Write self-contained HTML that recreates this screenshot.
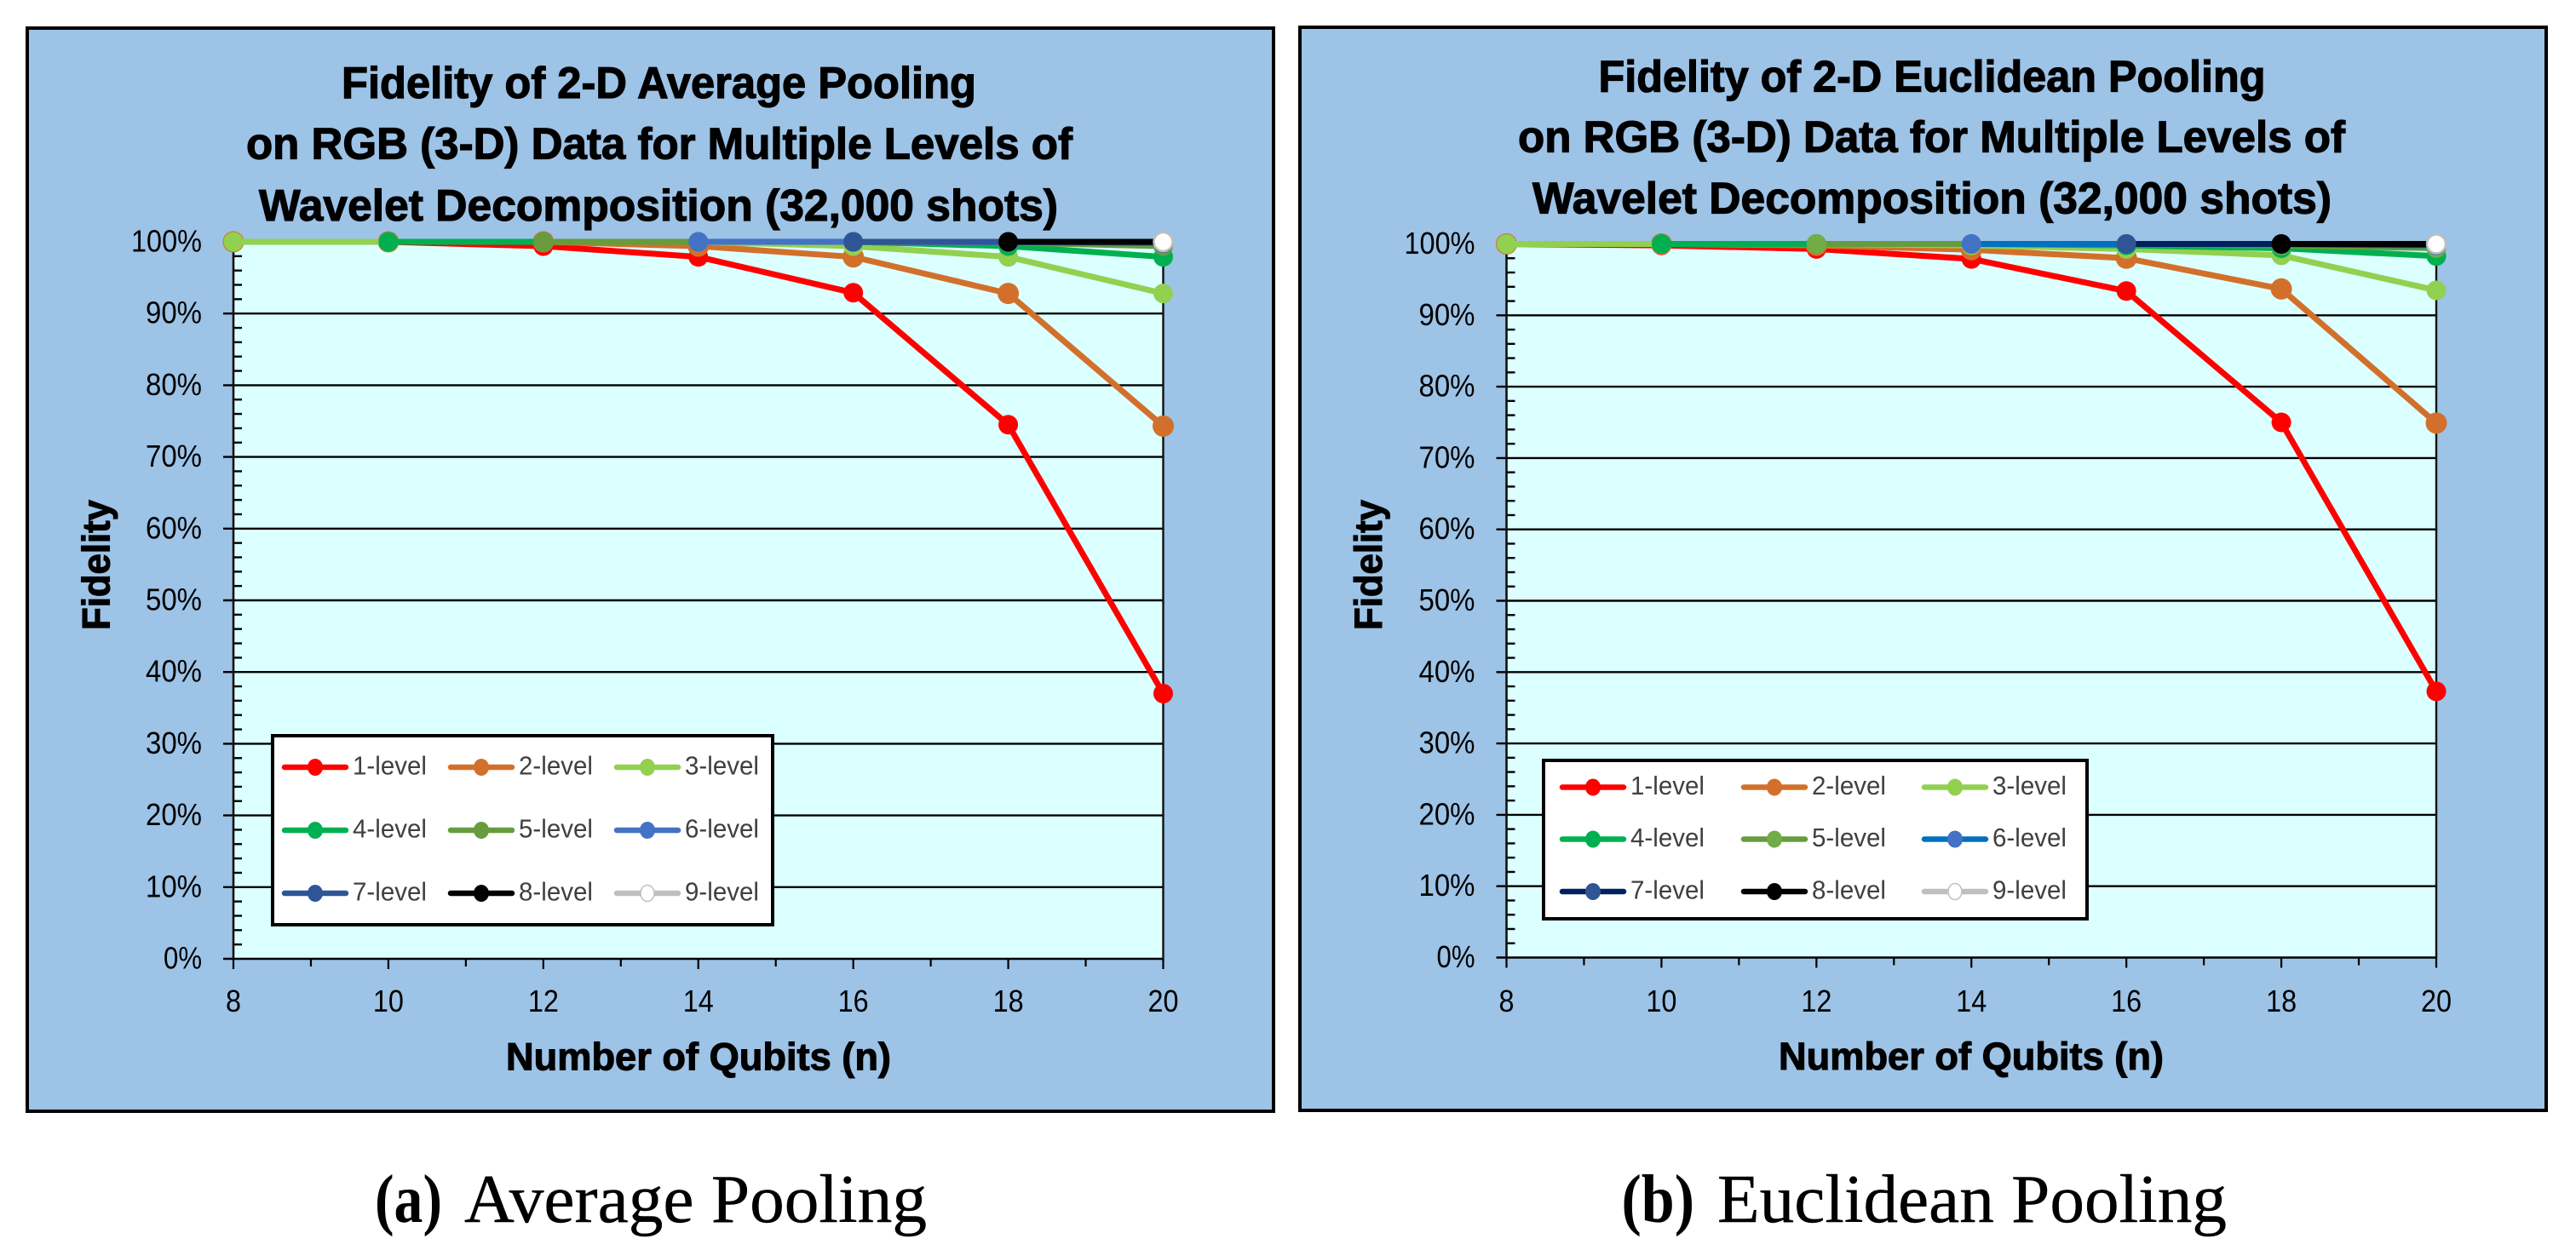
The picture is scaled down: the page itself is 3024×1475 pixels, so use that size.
<!DOCTYPE html>
<html lang="en">
<head>
<meta charset="utf-8">
<title>Fidelity of 2-D Pooling on RGB Data</title>
<style>
html,body{margin:0;padding:0;background:#fff;width:3024px;height:1475px;overflow:hidden}
svg{position:absolute;left:0;top:0;display:block}
.title{font:bold 52px "Liberation Sans",sans-serif;fill:#000;stroke:#000;stroke-width:1.2px}
.axis-title{font:bold 45px "Liberation Sans",sans-serif;fill:#000;stroke:#000;stroke-width:1.1px}
.caption{font:80px "Liberation Serif",serif;fill:#000;stroke:#000;stroke-width:.4px}
.caption-b{font:bold 80px "Liberation Serif",serif;fill:#000}
.tick{font:36px "Liberation Sans",sans-serif;fill:#000}
.legend-text{font:31px "Liberation Sans",sans-serif;fill:#404040}
</style>
</head>
<body>
<svg id="figure" xmlns="http://www.w3.org/2000/svg" width="3024" height="1475" viewBox="0 0 3024 1475">
  <g>
    <rect x="32" y="33" width="1463" height="1272" fill="#9DC3E6" stroke="#000" stroke-width="4"/>
    <rect x="274" y="284" width="1091.5" height="842" fill="#DCFFFF"/>
    <g id="avg-grid"></g>
    <g id="avg-series"></g>
    <g id="avg-legend"></g>
    <text class="title" x="401" y="115" textLength="745" lengthAdjust="spacingAndGlyphs">Fidelity of 2-D Average Pooling</text>
    <text class="title" x="289" y="186.5" textLength="970" lengthAdjust="spacingAndGlyphs">on RGB (3-D) Data for Multiple Levels of</text>
    <text class="title" x="304" y="259" textLength="938" lengthAdjust="spacingAndGlyphs">Wavelet Decomposition (32,000 shots)</text>
    <text class="axis-title" x="594" y="1256.5" textLength="452" lengthAdjust="spacingAndGlyphs">Number of Qubits (n)</text>
    <text class="axis-title" transform="translate(128.5 740) rotate(-90)" x="0" y="0" textLength="153" lengthAdjust="spacingAndGlyphs">Fidelity</text>
  </g>
  <g>
    <rect x="1526" y="32" width="1463" height="1272" fill="#9DC3E6" stroke="#000" stroke-width="4"/>
    <rect x="1768.5" y="286.5" width="1091.5" height="838" fill="#DCFFFF"/>
    <g id="euc-grid"></g>
    <g id="euc-series"></g>
    <g id="euc-legend"></g>
    <text class="title" x="1876.5" y="107.5" textLength="783" lengthAdjust="spacingAndGlyphs">Fidelity of 2-D Euclidean Pooling</text>
    <text class="title" x="1782" y="178.5" textLength="971" lengthAdjust="spacingAndGlyphs">on RGB (3-D) Data for Multiple Levels of</text>
    <text class="title" x="1799" y="250.5" textLength="938" lengthAdjust="spacingAndGlyphs">Wavelet Decomposition (32,000 shots)</text>
    <text class="axis-title" x="2088" y="1256" textLength="452" lengthAdjust="spacingAndGlyphs">Number of Qubits (n)</text>
    <text class="axis-title" transform="translate(1622 740) rotate(-90)" x="0" y="0" textLength="153" lengthAdjust="spacingAndGlyphs">Fidelity</text>
  </g>
  <g>
    <text class="caption-b" x="440" y="1435" textLength="79" lengthAdjust="spacingAndGlyphs">(a)</text>
    <text class="caption" x="545" y="1435" textLength="543" lengthAdjust="spacingAndGlyphs">Average Pooling</text>
  </g>
  <g>
    <text class="caption-b" x="1903.5" y="1435" textLength="85.5" lengthAdjust="spacingAndGlyphs">(b)</text>
    <text class="caption" x="2016" y="1435" textLength="598" lengthAdjust="spacingAndGlyphs">Euclidean Pooling</text>
  </g>
</svg>
<script>
const qubits = [8, 10, 12, 14, 16, 18, 20];
const xTickLabels = ['8', '10', '12', '14', '16', '18', '20'];
const yTickValues = [0, 10, 20, 30, 40, 50, 60, 70, 80, 90, 100];
const yTickLabels = ['0%', '10%', '20%', '30%', '40%', '50%', '60%', '70%', '80%', '90%', '100%'];
const seriesLabels = ['1-level', '2-level', '3-level', '4-level', '5-level', '6-level', '7-level', '8-level', '9-level'];

const avgLevel1 = [100, 100, 99.4, 97.9, 92.9, 74.5, 37];
const avgLevel2 = [100, 100, 100, 99.4, 97.9, 92.8, 74.3];
const avgLevel3 = [100, 100, 100, 100, 99.4, 97.9, 92.8];
const avgLevel4 = [null, 100, 100, 100, 100, 99.4, 97.9];
const avgLevel5 = [null, null, 100, 100, 100, 99.9, 99.4];
const avgLevel6 = [null, null, null, 100, 100, 99.95, 99.8];
const avgLevel7 = [null, null, null, null, 100, 100, 99.9];
const avgLevel8 = [null, null, null, null, null, 100, 100];
const avgLevel9 = [null, null, null, null, null, null, 100];

const eucLevel1 = [100, 99.8, 99.3, 97.9, 93.4, 75, 37.3];
const eucLevel2 = [100, 100, 99.8, 99.2, 98, 93.7, 74.9];
const eucLevel3 = [100, 100, 100, 99.8, 99.3, 98.4, 93.5];
const eucLevel4 = [null, 100, 100, 100, 99.8, 99.4, 98.3];
const eucLevel5 = [null, null, 100, 100, 100, 99.8, 99.4];
const eucLevel6 = [null, null, null, 100, 100, 99.95, 99.8];
const eucLevel7 = [null, null, null, null, 100, 100, 99.9];
const eucLevel8 = [null, null, null, null, null, 100, 100];
const eucLevel9 = [null, null, null, null, null, null, 100];

const avgSeries = [avgLevel1, avgLevel2, avgLevel3, avgLevel4, avgLevel5, avgLevel6, avgLevel7, avgLevel8, avgLevel9];
const eucSeries = [eucLevel1, eucLevel2, eucLevel3, eucLevel4, eucLevel5, eucLevel6, eucLevel7, eucLevel8, eucLevel9];

const avgLineColors = ['#FF0000', '#D2702B', '#92D050', '#00B050', '#669C3E', '#4472C4', '#2F5597', '#000000', '#BFBFBF'];
const avgMarkerColors = ['#FF0000', '#D2702B', '#92D050', '#00B050', '#669C3E', '#4472C4', '#2F5597', '#000000', '#FFFFFF'];
const eucLineColors = ['#FF0000', '#D2702B', '#92D050', '#00B050', '#669C3E', '#0070C0', '#002060', '#000000', '#BFBFBF'];
const eucMarkerColors = ['#FF0000', '#D2702B', '#92D050', '#00B050', '#70AD47', '#4472C4', '#2F5597', '#000000', '#FFFFFF'];

const NS = 'http://www.w3.org/2000/svg';

function make(tag, parent, attrs, text) {
  const node = document.createElementNS(NS, tag);
  for (const key in attrs) node.setAttribute(key, attrs[key]);
  if (text !== undefined) node.textContent = text;
  parent.appendChild(node);
  return node;
}

function textWidth(label) {
  if (label.length === 1) return 18;
  if (label.length === 2) return label.endsWith('%') ? 45 : 36;
  return label.length === 3 ? 66 : 83;
}

function drawChart(cfg) {
  const grid = document.getElementById(cfg.prefix + '-grid');
  const seriesLayer = document.getElementById(cfg.prefix + '-series');
  const legend = document.getElementById(cfg.prefix + '-legend');
  const xScale = v => cfg.x0 + (v - 8) / 12 * (cfg.x1 - cfg.x0);
  const yScale = v => cfg.y0 + v / 100 * (cfg.y100 - cfg.y0);

  yTickValues.forEach((v, i) => {
    const y = yScale(v);
    const line = make('line', grid, {x1: cfg.x0 - 12, x2: cfg.x1, y1: y, y2: y, stroke: '#000', 'stroke-width': 2.4});
    
    
    const width = textWidth(yTickLabels[i]);
    const label = make('text', grid, {class: 'tick', x: cfg.x0 - 37 - width, y: y + 11.5, textLength: width, lengthAdjust: 'spacingAndGlyphs'}, yTickLabels[i]);
    
    
  });

  for (let v = 2; v < 100; v += 2) {
    if (v % 10 === 0) continue;
    const y = yScale(v);
    const minor = make('line', grid, {x1: cfg.x0, x2: cfg.x0 + 10, y1: y, y2: y, stroke: '#000', 'stroke-width': 2.4});
    
    
  }

  for (let n = 8; n <= 20; n++) {
    const x = xScale(n);
    const tick = make('line', grid, {x1: x, x2: x, y1: cfg.y0, y2: cfg.y0 + (n % 2 === 0 ? 12 : 9), stroke: '#000', 'stroke-width': 2.2});
    
    
  }

  qubits.forEach((n, i) => {
    const label = make('text', grid, {class: 'tick', x: xScale(n) - textWidth(xTickLabels[i]) / 2, y: 1188, textLength: textWidth(xTickLabels[i]), lengthAdjust: 'spacingAndGlyphs'}, xTickLabels[i]);
    
    
  });

  const yAxis = make('line', grid, {x1: cfg.x0, x2: cfg.x0, y1: cfg.y100, y2: cfg.y0, stroke: '#111', 'stroke-width': 2.6});
  
  
  const rightEdge = make('line', grid, {x1: cfg.x1, x2: cfg.x1, y1: cfg.y100, y2: cfg.y0, stroke: '#111', 'stroke-width': 2.4});
  
  

  cfg.series.forEach((values, s) => {
    const group = make('g', seriesLayer, {});
    
    
    const pts = [];
    values.forEach((v, i) => {
      if (v !== null) pts.push([xScale(qubits[i]), yScale(v)]);
    });
    if (pts.length > 1) {
      const line = make('polyline', group, {points: pts.map(p => p.join(',')).join(' '), fill: 'none', stroke: cfg.lineColors[s], 'stroke-width': 7, 'stroke-linejoin': 'round'});
      
      
    }
    pts.forEach(p => {
      const dot = make('circle', group, {
        cx: p[0], cy: p[1], r: s === 1 ? 12.5 : (s === 8 ? 11 : 11.5),
        fill: cfg.markerColors[s],
        stroke: s === 8 ? '#BFBFBF' : 'none',
        'stroke-width': s === 8 ? 2.5 : 0
      });
      
      
    });
  });

  const box = make('rect', legend, {x: cfg.box[0], y: cfg.box[1], width: cfg.box[2], height: cfg.box[3], fill: '#fff', stroke: '#000', 'stroke-width': 4});
  
  

  seriesLabels.forEach((name, s) => {
    const col = s % 3;
    const row = Math.floor(s / 3);
    const x = cfg.legendCols[col];
    const y = cfg.legendRows[row];
    const entry = make('g', legend, {});
    
    
    make('line', entry, {x1: x + 2, x2: x + 74, y1: y, y2: y, stroke: cfg.lineColors[s], 'stroke-width': 6.5, 'stroke-linecap': 'round'});
    make('ellipse', entry, {cx: x + 38, cy: y, rx: s === 8 ? 8 : 9, ry: s === 8 ? 9.5 : 10, fill: cfg.markerColors[s], stroke: s === 8 ? '#BFBFBF' : 'none', 'stroke-width': s === 8 ? 1.5 : 0});
    make('text', entry, {class: 'legend-text', x: x + 82, y: y + 8.5, textLength: 87, lengthAdjust: 'spacingAndGlyphs'}, name);
  });
}

drawChart({
  prefix: 'avg', series: avgSeries, lineColors: avgLineColors, markerColors: avgMarkerColors,
  x0: 274, x1: 1365.5, y0: 1126, y100: 284,
  box: [320, 864, 587, 222], legendCols: [332, 527, 722], legendRows: [901, 975, 1049]
});
drawChart({
  prefix: 'euc', series: eucSeries, lineColors: eucLineColors, markerColors: eucMarkerColors,
  x0: 1768.5, x1: 2860, y0: 1124.5, y100: 286.5,
  box: [1812, 893, 638, 186], legendCols: [1832, 2045, 2257], legendRows: [924.5, 985.5, 1047]
});
</script>
</body>
</html>
